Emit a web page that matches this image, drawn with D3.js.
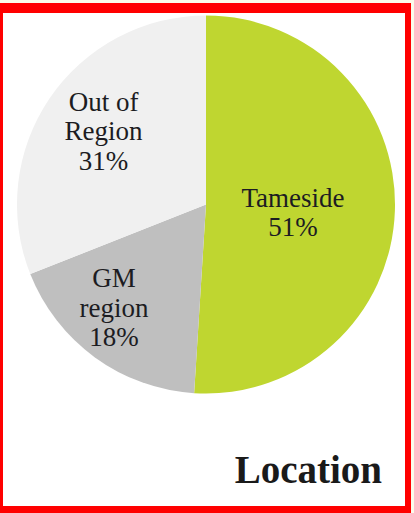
<!DOCTYPE html>
<html>
<head>
<meta charset="utf-8">
<script src="https://cdn.jsdelivr.net/npm/d3@7"></script>
<style>
  html, body { margin: 0; padding: 0; background: #fbfbea; }
  svg { display: block; }
</style>
</head>
<body>
<svg id="chart" width="414" height="513"></svg>
<script>
// Share of respondents by location
const categories = ["Tameside", "GM region", "Out of Region"];
const shares = [51, 18, 31];
const labelLines = [["Tameside", "51%"], ["GM", "region", "18%"], ["Out of", "Region", "31%"]];
const colors = ["#bfd630", "#bfbfbf", "#f0f0f0"];
const title = "Location";

const svg = d3.select("#chart");
const W = 414, H = 513;

// Page and red frame
svg.append("rect").attr("x", 0).attr("y", 3).attr("width", 411).attr("height", 510).attr("fill", "#ffffff");
const frame = svg.append("g").attr("fill", "#ff0000");
frame.append("rect").attr("x", 0).attr("y", 3).attr("width", 411).attr("height", 10);   // top
frame.append("rect").attr("x", 0).attr("y", 3).attr("width", 3).attr("height", 510);    // left
frame.append("rect").attr("x", 405).attr("y", 3).attr("width", 6).attr("height", 510);  // right
frame.append("rect").attr("x", 0).attr("y", 506).attr("width", 411).attr("height", 7);  // bottom

// Pie
const cx = 206, cy = 204.5, R = 189;
const data = categories.map((c, i) => ({ name: c, value: shares[i], lines: labelLines[i], color: colors[i] }));
const pie = d3.pie().value(d => d.value).sort(null).startAngle(0).endAngle(2 * Math.PI);
const arcs = pie(data);
const arc = d3.arc().innerRadius(0).outerRadius(R);

const g = svg.append("g").attr("transform", `translate(${cx},${cy})`);
g.selectAll("path.slice")
  .data(arcs)
  .join("path")
  .attr("class", "slice")
  .attr("d", arc)
  .attr("fill", d => d.data.color);

// Label anchors, as fractions of the radius from the centre
const labelAt = {
  "Tameside": [0.46, 0.042],
  "GM region": [-0.487, 0.548],
  "Out of Region": [-0.542, -0.386]
};
const fontSize = 27, lineH = 29.5;

const labels = g.selectAll("text.label")
  .data(arcs)
  .join("text")
  .attr("class", "label")
  .attr("text-anchor", "middle")
  .attr("font-family", "'Liberation Serif', 'DejaVu Serif', serif")
  .attr("font-size", fontSize)
  .attr("fill", "#1c1c22")
  .each(function (d) {
    const [fx, fy] = labelAt[d.data.name];
    const x = fx * R, y = fy * R;
    const n = d.data.lines.length;
    d3.select(this).selectAll("tspan")
      .data(d.data.lines)
      .join("tspan")
      .attr("x", x)
      .attr("y", (t, i) => y + (i - (n - 1) / 2) * lineH + fontSize * 0.33)
      .text(t => t);
  });

// Title
svg.append("text")
  .attr("x", 382)
  .attr("y", 483)
  .attr("text-anchor", "end")
  .attr("font-family", "'Liberation Serif', 'DejaVu Serif', serif")
  .attr("font-weight", "bold")
  .attr("font-size", 39)
  .attr("fill", "#1a1a1a")
  .text(title);
</script>
</body>
</html>
